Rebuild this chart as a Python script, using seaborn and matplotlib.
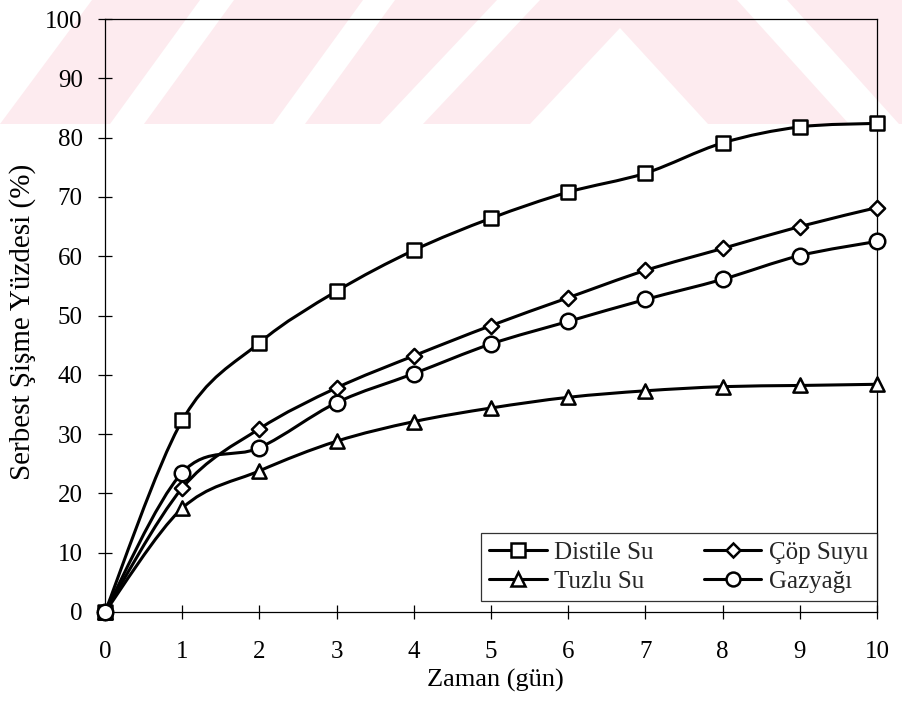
import matplotlib
matplotlib.use("Agg")
import matplotlib.pyplot as plt
from matplotlib.path import Path
from matplotlib.patches import PathPatch, Polygon
from matplotlib.lines import Line2D
import seaborn as sns
import numpy as np
import pandas as pd

# ---- data ----
days = [0, 1, 2, 3, 4, 5, 6, 7, 8, 9, 10]
distile_su = [0, 32.3, 45.4, 54.1, 61.0, 66.4, 70.8, 74.0, 79.1, 81.8, 82.4]
cop_suyu = [0, 20.9, 30.9, 37.8, 43.2, 48.3, 53.0, 57.6, 61.3, 65.0, 68.2]
tuzlu_su = [0, 17.5, 23.8, 28.8, 32.1, 34.4, 36.2, 37.3, 38.0, 38.2, 38.4]
gazyagi = [0, 23.5, 27.7, 35.3, 40.2, 45.2, 49.0, 52.7, 56.1, 60.1, 62.5]

series_names = ["Distile Su", "Tuzlu Su", "Çöp Suyu", "Gazyağı"]
series_values = [distile_su, tuzlu_su, cop_suyu, gazyagi]
x_ticks = list(range(0, 11))
y_ticks = list(range(0, 101, 10))
x_label = "Zaman (gün)"
y_label = "Serbest Şişme Yüzdesi (%)"

markers = {"Distile Su": "s", "Tuzlu Su": "^", "Çöp Suyu": "D", "Gazyağı": "o"}
msizes = {"Distile Su": 110, "Tuzlu Su": 105, "Çöp Suyu": 60, "Gazyağı": 125}
lmsizes = {"Distile Su": 9.5, "Tuzlu Su": 9.5, "Çöp Suyu": 7.0, "Gazyağı": 10}

sns.set_theme(style="white")
plt.rcParams["font.family"] = ["Liberation Serif", "DejaVu Serif"]

W, H = 903, 706
fig = plt.figure(figsize=(W / 100, H / 100), dpi=100)
fig.patch.set_facecolor("white")

# ---- background watermark (pink band with white slanted gaps) ----
pink = "#fdebef"
def px(pts):
    return [(x / W, 1 - y / H) for x, y in pts]
band = Polygon(px([(0, 0), (W, 0), (W, 124), (0, 124)]), closed=True,
               transform=fig.transFigure, facecolor=pink, edgecolor="none", zorder=-5)
fig.add_artist(band)
whites = [
    [(0, 0), (92, 0), (0, 124)],
    [(200, 0), (234, 0), (144, 124), (110, 124)],
    [(363, 0), (395, 0), (305, 124), (273, 124)],
    [(497, 0), (540, 0), (423, 124), (380, 124)],
    [(620, 28), (708, 124), (530, 124)],
    [(737, 0), (787, 0), (899, 124), (849, 124)],
]
for w in whites:
    fig.add_artist(Polygon(px(w), closed=True, transform=fig.transFigure,
                           facecolor="white", edgecolor="none", zorder=-4))

ax = fig.add_axes([105 / W, 1 - 612 / H, 772 / W, 593 / H])
ax.set_facecolor("none")
ax.set_xlim(0, 10)
ax.set_ylim(0, 100)

def smooth_path(xs, ys):
    pts = np.column_stack([xs, ys]).astype(float)
    n = len(pts)
    verts = [tuple(pts[0])]
    codes = [Path.MOVETO]
    for i in range(n - 1):
        p0 = pts[max(i - 1, 0)]
        p1 = pts[i]
        p2 = pts[i + 1]
        p3 = pts[min(i + 2, n - 1)]
        c1 = p1 + (p2 - p0) / 6.0
        c2 = p2 - (p3 - p1) / 6.0
        verts += [tuple(c1), tuple(c2), tuple(p2)]
        codes += [Path.CURVE4] * 3
    return Path(verts, codes)

draw_order = ["Distile Su", "Çöp Suyu", "Tuzlu Su", "Gazyağı"]
data = dict(zip(series_names, series_values))
for name in draw_order:
    vals = data[name]
    ax.add_patch(PathPatch(smooth_path(days, vals), facecolor="none",
                           edgecolor="black", lw=2.2, zorder=3, clip_on=False))
for name in draw_order:
    df = pd.DataFrame({"x": days, "y": data[name]})
    sns.scatterplot(data=df, x="x", y="y", ax=ax, marker=markers[name],
                    s=msizes[name], facecolor="white", edgecolor="black",
                    linewidth=1.8, zorder=4, clip_on=False, legend=False)

# ---- axes styling ----
for side in ["left", "right", "top", "bottom"]:
    ax.spines[side].set_visible(True)
    ax.spines[side].set_color("black")
    ax.spines[side].set_linewidth(0.9)
ax.set_xticks(x_ticks)
ax.set_yticks(y_ticks)
ax.set_xticklabels([str(t) for t in x_ticks])
ax.set_yticklabels([str(t) for t in y_ticks])
ax.tick_params(axis="x", direction="inout", length=10, width=0.9, pad=16,
               labelsize=18, colors="black", bottom=True, top=False)
ax.tick_params(axis="y", direction="inout", length=10, width=0.9, pad=11,
               labelsize=18, colors="black", left=True, right=False)
ax.grid(False)

ax.set_xlabel(x_label, fontsize=19, color="black")
ax.set_ylabel(y_label, fontsize=21, color="black")
ax.xaxis.set_label_coords(0.506, -0.096)
ax.yaxis.set_label_coords(-0.089, 0.49)

# ---- legend ----
handles = [Line2D([0], [0], color="black", lw=2.2, marker=markers[n],
                  markersize=lmsizes[n], markerfacecolor="white",
                  markeredgecolor="black", markeredgewidth=1.8)
           for n in series_names]
leg = ax.legend(handles, series_names, ncol=2, loc="lower right",
                bbox_to_anchor=(1.0, 0.018), borderaxespad=0.0,
                frameon=True, fancybox=False, edgecolor="black",
                fontsize=18, handlelength=2.3, handletextpad=0.3,
                columnspacing=2.0, labelspacing=0.25, borderpad=0.35)
leg.get_frame().set_linewidth(0.9)
leg.set_zorder(5)

fig.savefig("out.png", dpi=100, facecolor="white")
